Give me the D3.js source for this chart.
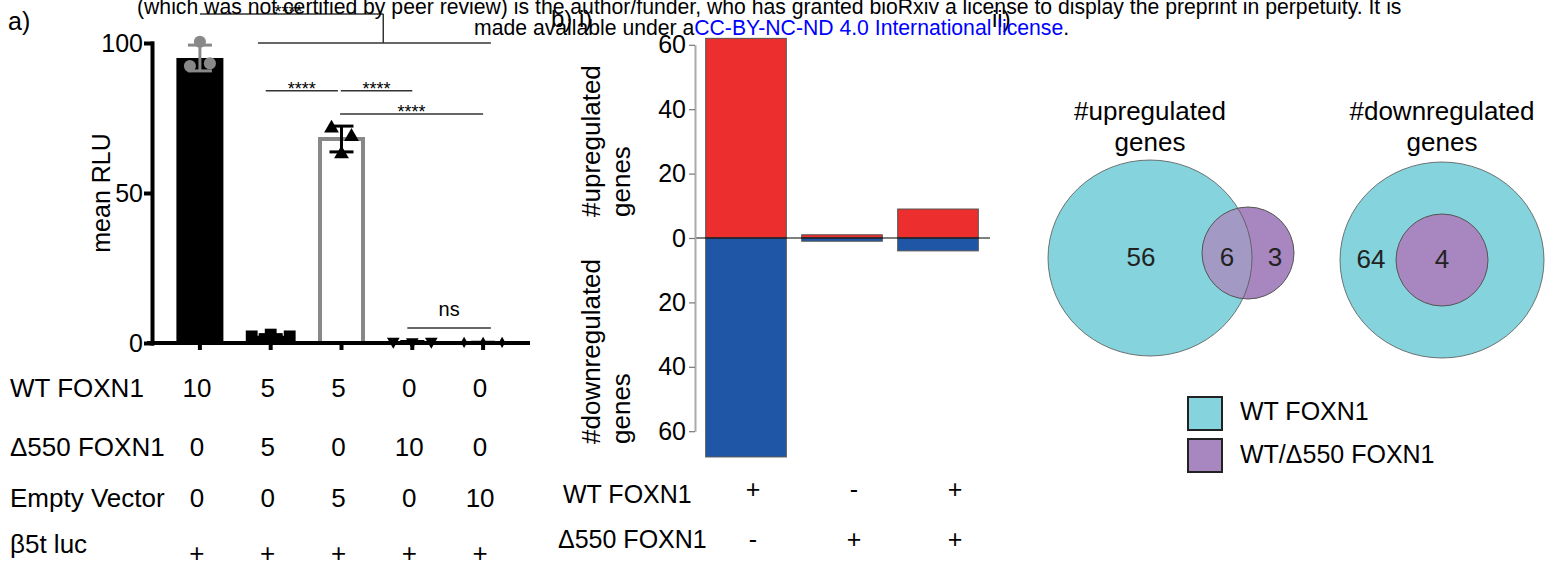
<!DOCTYPE html>
<html>
<head>
<meta charset="utf-8">
<script src="https://cdn.jsdelivr.net/npm/d3@7"></script>
<style>
  body { margin: 0; background: #fff; }
  svg { display: block; }
</style>
</head>
<body>
<svg id="chart" width="1547" height="571"></svg>
<script>
// ---------------------------------------------------------------------------
// Data
// ---------------------------------------------------------------------------
// a) luciferase assay, mean RLU per transfection
const meanRLU   = [95, 2.4, 68, 0.4, 0.2];
const sdRLU     = [4.3, 0.4, 4.3, 0.1, 0.05];
const pointsRLU = [[92.3, 100.4, 93.2], [2.2, 2.8, 2.2], [71.6, 63, 68.8], [0.5, 0.4, 0.5], [0.2, 0.2, 0.2]];
const ticksA    = [0, 50, 100];
const rowLabelsA = ['WT FOXN1', 'Δ550 FOXN1', 'Empty Vector', 'β5t luc'];
const rowValuesA = [
  ['10', '5', '5', '0', '0'],
  ['0', '5', '0', '10', '0'],
  ['0', '0', '5', '0', '10'],
  ['+', '+', '+', '+', '+'],
];
// significance lines: from/to in group-index units, level in RLU
const sigLines = [
  { from: 0.93, to: 1.95, level: 84.1, label: '****' },
  { from: 1.99, to: 3.0,  level: 84.1, label: '****' },
  { from: 1.98, to: 4.0,  level: 76.3, label: '****' },
  { from: 2.93, to: 4.11, level: 5,    label: 'ns' },
];

// b i) number of regulated genes per condition
const upGenes   = [62, 1, 9];
const downGenes = [68, 1, 4];
const ticksB    = [-60, -40, -20, 0, 20, 40, 60];
const rowLabelsB = ['WT FOXN1', 'Δ550 FOXN1'];
const rowValuesB = [['+', '-', '+'], ['-', '+', '+']];

// b ii) Venn counts: [WT only, shared, WT/Δ550 only]
const vennUp   = [56, 6, 3];
const vennDown = [64, 4];
const vennTitles = [['#upregulated', 'genes'], ['#downregulated', 'genes']];
const legendLabels = ['WT FOXN1', 'WT/Δ550 FOXN1'];

// ---------------------------------------------------------------------------
// Style
// ---------------------------------------------------------------------------
const FONT   = '"Liberation Sans", Arial, Helvetica, sans-serif';
const GRAY   = '#888';
const RED    = '#ED2E2F';
const BLUE   = '#1F57A6';
const CYAN   = '#85D3DD';
const PURPLE = '#A886BF';
const MIX    = '#A29AC5';

const svg = d3.select('#chart').attr('font-family', FONT);

// ---------------------------------------------------------------------------
// Panel a
// ---------------------------------------------------------------------------
const gA = svg.append('g');
const xA = d3.scaleBand().domain(d3.range(meanRLU.length)).range([164.5, 518.5]);
const cxA = i => xA(i) + xA.bandwidth() / 2;
const yA = d3.scaleLinear().domain([0, 100]).range([343, 43]);
const idxA = d3.scaleLinear().domain([0, 4]).range([cxA(0), cxA(4)]);
const BAR_W = 47;

const barFill   = ['#000', '#000', '#fff', '#000', '#000'];
const barStroke = ['none', 'none', GRAY, 'none', 'none'];
const errColor  = [GRAY, '#000', '#000', '#000', '#000'];
const ptColor   = [GRAY, '#000', '#000', '#000', '#000'];
const ptSymbol  = [d3.symbolCircle, d3.symbolSquare, d3.symbolTriangle, d3.symbolTriangle, d3.symbolDiamond];
const ptSize    = [115, 140, 95, 70, 36];
const ptRotate  = [0, 0, 0, 180, 0];
const ptSpread  = [10, 19, 10, 19, 19];

gA.selectAll('rect.bar')
  .data(meanRLU)
  .join('rect')
  .attr('class', 'bar')
  .attr('x', (d, i) => cxA(i) - BAR_W / 2 + (barStroke[i] === 'none' ? 0 : 2))
  .attr('width', (d, i) => BAR_W - (barStroke[i] === 'none' ? 0 : 4))
  .attr('y', d => yA(d))
  .attr('height', d => yA(0) - yA(d))
  .attr('fill', (d, i) => barFill[i])
  .attr('stroke', (d, i) => barStroke[i])
  .attr('stroke-width', 4);

// x axis (thick) + ticks
gA.append('line')
  .attr('x1', 147).attr('x2', 530)
  .attr('y1', yA(0)).attr('y2', yA(0))
  .attr('stroke', '#000').attr('stroke-width', 4);

gA.append('g')
  .attr('transform', `translate(0,${yA(0)})`)
  .call(d3.axisBottom(xA).tickFormat('').tickSize(7).tickSizeOuter(0))
  .call(g => g.select('.domain').remove())
  .call(g => g.selectAll('line').attr('stroke', '#000').attr('stroke-width', 4));

// y axis
gA.append('g')
  .attr('transform', 'translate(152,0)')
  .call(d3.axisLeft(yA).tickValues(ticksA).tickSize(6).tickPadding(3).tickSizeOuter(0))
  .call(g => g.attr('font-family', FONT))
  .call(g => g.selectAll('path, line').attr('stroke', '#000').attr('stroke-width', 4).attr('stroke-linecap', 'square'))
  .call(g => g.selectAll('text').attr('font-size', 25).attr('fill', '#000'));

gA.append('text')
  .attr('transform', `translate(110,${yA(50)}) rotate(-90)`)
  .attr('text-anchor', 'middle')
  .attr('font-size', 25)
  .text('mean RLU');

// error bars
const err = gA.selectAll('g.err')
  .data(meanRLU)
  .join('g')
  .attr('class', 'err')
  .attr('stroke', (d, i) => errColor[i])
  .attr('stroke-width', 3);
err.append('line')
  .attr('x1', (d, i) => cxA(i)).attr('x2', (d, i) => cxA(i))
  .attr('y1', (d, i) => yA(d - sdRLU[i])).attr('y2', (d, i) => yA(d + sdRLU[i]));
err.append('line')
  .attr('x1', (d, i) => cxA(i) - 12).attr('x2', (d, i) => cxA(i) + 12)
  .attr('y1', (d, i) => yA(d + sdRLU[i])).attr('y2', (d, i) => yA(d + sdRLU[i]));
err.append('line')
  .attr('x1', (d, i) => cxA(i) - 12).attr('x2', (d, i) => cxA(i) + 12)
  .attr('y1', (d, i) => yA(d - sdRLU[i])).attr('y2', (d, i) => yA(d - sdRLU[i]));

// replicate points
pointsRLU.forEach((pts, i) => {
  const sym = d3.symbol().type(ptSymbol[i]).size(ptSize[i]);
  gA.append('g').selectAll('path')
    .data(pts)
    .join('path')
    .attr('d', sym)
    .attr('fill', ptColor[i])
    .attr('transform', (v, j) =>
      `translate(${cxA(i) + (j - 1) * ptSpread[i]},${yA(v)}) rotate(${ptRotate[i]})`);
});

// significance annotations
const sig = gA.append('g');
sigLines.forEach(s => {
  sig.append('line')
    .attr('x1', idxA(s.from)).attr('x2', idxA(s.to))
    .attr('y1', yA(s.level)).attr('y2', yA(s.level))
    .attr('stroke', '#333').attr('stroke-width', 1.5);
  const isNs = s.label === 'ns';
  sig.append('text')
    .attr('x', (idxA(s.from) + idxA(s.to)) / 2)
    .attr('y', yA(s.level) + (isNs ? -12 : 4))
    .attr('text-anchor', 'middle')
    .attr('font-size', isNs ? 20 : 18)
    .text(s.label);
});
// bracket: group 1 vs all others
const stemX = idxA(2.59);
sig.append('line')
  .attr('x1', idxA(0.82)).attr('x2', idxA(4.11))
  .attr('y1', yA(100)).attr('y2', yA(100))
  .attr('stroke', '#333').attr('stroke-width', 1.5);
sig.append('line')
  .attr('x1', stemX).attr('x2', stemX)
  .attr('y1', yA(100)).attr('y2', yA(109.7))
  .attr('stroke', '#333').attr('stroke-width', 1.5);
sig.append('line')
  .attr('x1', idxA(0)).attr('x2', stemX)
  .attr('y1', yA(109.7)).attr('y2', yA(109.7))
  .attr('stroke', '#333').attr('stroke-width', 1.5);
sig.append('text')
  .attr('x', idxA(1.25)).attr('y', yA(109.7) + 4)
  .attr('text-anchor', 'middle').attr('font-size', 18)
  .text('****');

// table under panel a
const rowYA = [397, 456, 507, 553];
const tA = gA.append('g').attr('font-size', 26);
rowLabelsA.forEach((lab, r) => {
  tA.append('text').attr('x', 10).attr('y', rowYA[r]).text(lab);
  tA.selectAll(null)
    .data(rowValuesA[r])
    .join('text')
    .attr('x', (d, i) => cxA(i) - 3)
    .attr('y', d => rowYA[r] + (d === '+' ? 9 : 0))
    .attr('text-anchor', 'middle')
    .text(d => d);
});

// ---------------------------------------------------------------------------
// Panel b i)
// ---------------------------------------------------------------------------
const gB = svg.append('g');
const xB = d3.scaleBand().domain(d3.range(upGenes.length)).range([698, 986]).paddingInner(0.16).paddingOuter(0.08);
const yB = d3.scaleLinear().domain([-60, 60]).range([431.2, 44.8]);

gB.selectAll('rect.up')
  .data(upGenes)
  .join('rect')
  .attr('class', 'up')
  .attr('x', (d, i) => xB(i))
  .attr('width', xB.bandwidth())
  .attr('y', d => yB(d))
  .attr('height', d => yB(0) - yB(d))
  .attr('fill', RED)
  .attr('stroke', '#555').attr('stroke-width', 1);

gB.selectAll('rect.down')
  .data(downGenes)
  .join('rect')
  .attr('class', 'down')
  .attr('x', (d, i) => xB(i))
  .attr('width', xB.bandwidth())
  .attr('y', yB(0))
  .attr('height', d => yB(-d) - yB(0))
  .attr('fill', BLUE)
  .attr('stroke', '#555').attr('stroke-width', 1);

gB.append('line')
  .attr('x1', 695).attr('x2', 990)
  .attr('y1', yB(0)).attr('y2', yB(0))
  .attr('stroke', '#000').attr('stroke-width', 1.2);

gB.append('g')
  .attr('transform', 'translate(695,0)')
  .call(d3.axisLeft(yB).tickValues(ticksB).tickFormat(d => Math.abs(d)).tickSize(6).tickPadding(3).tickSizeOuter(0))
  .call(g => g.attr('font-family', FONT))
  .call(g => g.select('.domain').attr('stroke', '#aaa').attr('stroke-width', 2))
  .call(g => g.selectAll('.tick line').attr('stroke', '#777').attr('stroke-width', 1.2))
  .call(g => g.selectAll('text').attr('font-size', 25).attr('fill', '#000'));

// rotated axis titles
[['#upregulated', 'genes', 217], ['#downregulated', 'genes', 444]].forEach(([l1, l2, yb]) => {
  gB.append('text')
    .attr('transform', `translate(600,${yb}) rotate(-90)`)
    .attr('font-size', 26).text(l1);
  gB.append('text')
    .attr('transform', `translate(630,${yb}) rotate(-90)`)
    .attr('font-size', 26).text(l2);
});

// table under panel b
const xTB = d3.scalePoint().domain(d3.range(upGenes.length)).range([753, 955]);
const rowYB = [503, 548];
const rowXB = [563, 558];
const tB = gB.append('g').attr('font-size', 25);
rowLabelsB.forEach((lab, r) => {
  tB.append('text').attr('x', rowXB[r]).attr('y', rowYB[r]).text(lab);
  tB.selectAll(null)
    .data(rowValuesB[r])
    .join('text')
    .attr('x', (d, i) => xTB(i))
    .attr('y', rowYB[r] - (r === 0 ? 5 : 0))
    .attr('text-anchor', 'middle')
    .text(d => d);
});

// ---------------------------------------------------------------------------
// Panel b ii) Venn diagrams
// ---------------------------------------------------------------------------
const gV = svg.append('g');
const BIG = { rx: 102, ry: 98 };
const SMALL_R = 46;
const defs = svg.append('defs');

function venn(cx, cy, smallDx, counts, title, id) {
  const g = gV.append('g');
  const sx = cx + smallDx;
  const sy = cy - (smallDx ? 5 : 0);
  g.append('ellipse')
    .attr('cx', cx).attr('cy', cy).attr('rx', BIG.rx).attr('ry', BIG.ry)
    .attr('fill', CYAN);
  g.append('circle')
    .attr('cx', sx).attr('cy', sy).attr('r', SMALL_R)
    .attr('fill', PURPLE);
  if (smallDx) {
    defs.append('clipPath').attr('id', id)
      .append('circle').attr('cx', sx).attr('cy', sy).attr('r', SMALL_R);
    g.append('ellipse')
      .attr('cx', cx).attr('cy', cy).attr('rx', BIG.rx).attr('ry', BIG.ry)
      .attr('fill', MIX).attr('clip-path', `url(#${id})`);
  }
  g.append('ellipse')
    .attr('cx', cx).attr('cy', cy).attr('rx', BIG.rx).attr('ry', BIG.ry)
    .attr('fill', 'none').attr('stroke', '#555').attr('stroke-width', 1).attr('stroke-opacity', 0.8);
  g.append('circle')
    .attr('cx', sx).attr('cy', sy).attr('r', SMALL_R)
    .attr('fill', 'none').attr('stroke', '#555').attr('stroke-width', 1);

  // count labels
  const labX = smallDx
    ? [cx - 9, (cx + BIG.rx + sx - SMALL_R) / 2, (cx + BIG.rx + sx + SMALL_R) / 2 + 2]
    : [cx - 71, sx];
  g.selectAll('text.count')
    .data(counts)
    .join('text')
    .attr('class', 'count')
    .attr('x', (d, i) => labX[i])
    .attr('y', cy - 1)
    .attr('dy', '0.35em')
    .attr('text-anchor', 'middle')
    .attr('font-size', 26)
    .attr('fill', '#222')
    .text(d => d);

  g.selectAll('text.title')
    .data(title)
    .join('text')
    .attr('class', 'title')
    .attr('x', cx)
    .attr('y', (d, i) => 120 + i * 31)
    .attr('text-anchor', 'middle')
    .attr('font-size', 26)
    .text(d => d);
}

venn(1150, 258, 98, vennUp, vennTitles[0], 'clipUp');
venn(1442, 260, 0, vennDown, vennTitles[1], 'clipDown');

// legend
const leg = gV.append('g');
leg.selectAll('rect')
  .data(legendLabels)
  .join('rect')
  .attr('x', 1188).attr('y', (d, i) => 397 + i * 42)
  .attr('width', 34).attr('height', 33)
  .attr('fill', (d, i) => [CYAN, PURPLE][i])
  .attr('stroke', '#222').attr('stroke-width', 2);
leg.selectAll('text')
  .data(legendLabels)
  .join('text')
  .attr('x', 1240).attr('y', (d, i) => 420 + i * 43)
  .attr('font-size', 25)
  .text(d => d);

// ---------------------------------------------------------------------------
// Panel letters and preprint banner
// ---------------------------------------------------------------------------
svg.append('text').attr('x', 8).attr('y', 30).attr('font-size', 25).text('a)');
svg.append('text').attr('x', 551).attr('y', 27).attr('font-size', 24).text('b) i)');
svg.append('text').attr('x', 992).attr('y', 27).attr('font-size', 24).text('ii)');

svg.append('text')
  .attr('x', 137).attr('y', 14)
  .attr('font-size', 21.2)
  .text('(which was not certified by peer review) is the author/funder, who has granted bioRxiv a license to display the preprint in perpetuity. It is');

const line2 = svg.append('text').attr('x', 474).attr('y', 35).attr('font-size', 21.2);
line2.append('tspan').text('made available under a');
line2.append('tspan').attr('fill', '#0000ff').text('CC-BY-NC-ND 4.0 International license');
line2.append('tspan').text('.');
</script>
</body>
</html>
